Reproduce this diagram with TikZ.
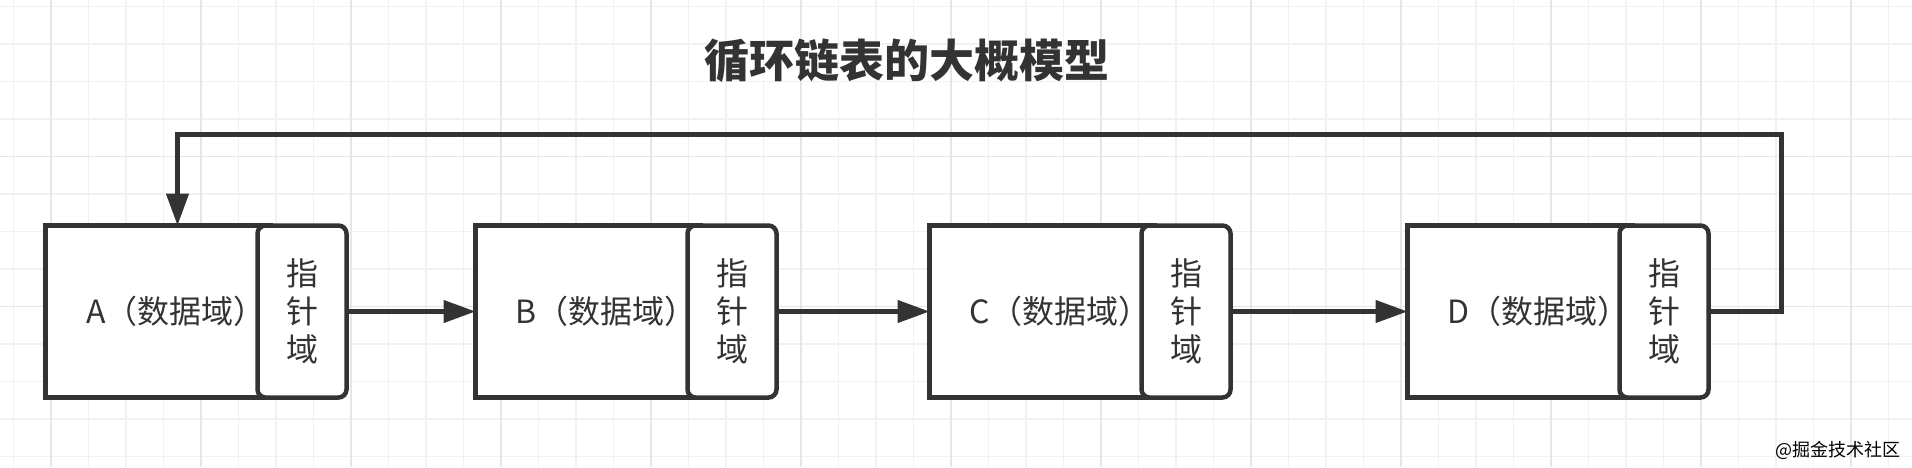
\documentclass[tikz,border=0pt]{standalone}
\usepackage{fontspec}
\setmainfont{Noto Sans CJK SC}
\usetikzlibrary{positioning,arrows.meta}
\definecolor{ink}{HTML}{333333}
\definecolor{gridminor}{HTML}{F1F1F1}
\definecolor{gridmajor}{HTML}{E6E6E6}

\begin{document}
\begin{tikzpicture}[x=1pt, y=-1pt, color=ink,
    datafield/.style={draw=ink, line width=4.5pt, rectangle, fill=white, minimum width=225pt, minimum height=172pt, inner sep=0pt, outer sep=0pt},
    ptrfield/.style={draw=ink, line width=4.5pt, rectangle, rounded corners=8pt, fill=white, minimum width=89pt, minimum height=172pt, inner sep=0pt, outer sep=0pt, anchor=west, align=center, font=\fontsize{32}{38}\selectfont},
    datatext/.style={font=\fontsize{32}{38}\selectfont},
    link/.style={draw=ink, line width=4.5pt, -{Triangle[length=32pt, width=22pt]}}]
  \useasboundingbox (0,0) rectangle (1912,467);
  \fill[white] (0,0) rectangle (1912,467);

  % background grid
  \foreach \x in {13.3,50.8,...,1912} \draw[gridminor, line width=1.5pt] (\x,0) -- (\x,467);
  \foreach \y in {6.7,44.2,...,467} \draw[gridminor, line width=1.5pt] (0,\y) -- (1912,\y);
  \foreach \x in {50.8,200.8,...,1912} \draw[gridmajor, line width=1.5pt] (\x,0) -- (\x,467);
  \foreach \y in {156.7,306.7} \draw[gridmajor, line width=1.5pt] (0,\y) -- (1912,\y);

  \node[font=\fontsize{45}{45}\selectfont\bfseries] (title) at (907,61) {循环链表的大概模型};

  % list nodes
  \node[datafield] (dataA) at (158,311.5) {};
  \node[ptrfield] (ptrA) at ([xshift=-13pt]dataA.east) {指\\针\\域};
  \node[datatext] (textA) at ([xshift=18pt]dataA.center) {A（数据域）};
  \foreach \n/\p/\g in {B/A/129, C/B/153, D/C/177} {
    \node[datafield, right=\g pt of ptr\p] (data\n) {};
    \node[ptrfield] (ptr\n) at ([xshift=-13pt]data\n.east) {指\\针\\域};
    \node[datatext] (text\n) at ([xshift=18pt]data\n.center) {\n（数据域）};
    \draw[link] (ptr\p.east) -- (data\n.west);
  }

  % back to the head
  \coordinate (entryA) at ([xshift=132pt]dataA.north west);
  \draw[link] (ptrD.east) -- ++(73,0) |- ([yshift=91pt]entryA) -- (entryA);

  \node[anchor=east, font=\fontsize{18}{18}\selectfont, text=black] (mark) at (1904,450) {@掘金技术社区};
\end{tikzpicture}
\end{document}
